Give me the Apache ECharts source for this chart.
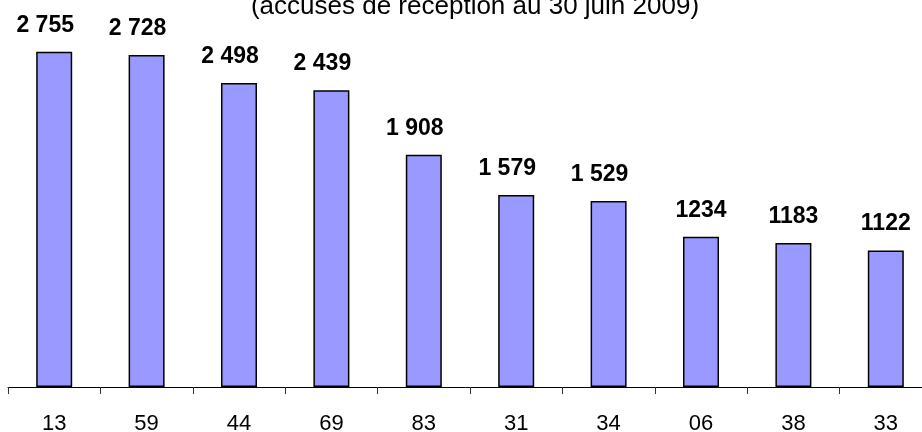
<!DOCTYPE html>
<html>
<head>
<meta charset="utf-8">
<script src="https://cdn.jsdelivr.net/npm/echarts@6/dist/echarts.min.js"></script>
<style>
  html, body { margin: 0; padding: 0; background: #fff; }
  #chart { width: 922px; height: 432px; }
</style>
</head>
<body>
<div id="chart"></div>
<script>
// départements
var categories = ["13", "59", "44", "69", "83", "31", "34", "06", "38", "33"];
// nombre de dossiers
var values = [2755, 2728, 2498, 2439, 1908, 1579, 1529, 1234, 1183, 1122];
// étiquettes telles qu'affichées
var valueLabels = ["2 755", "2 728", "2 498", "2 439", "1 908", "1 579", "1 529", "1234", "1183", "1122"];

// les étiquettes avec espace sont décalées vers la gauche dans l'original
var barData = values.map(function (v, i) {
  return {
    value: v,
    label: { offset: [valueLabels[i].indexOf(" ") >= 0 ? -9 : 0, 0] }
  };
});

var chart = echarts.init(document.getElementById("chart"));
chart.setOption({
  backgroundColor: "#fff",
  animation: false,
  title: {
    text: "(accusés de réception au 30 juin 2009)",
    left: 470,
    top: -11,
    textAlign: "center",
    textStyle: {
      fontFamily: "Liberation Sans, Arial",
      fontWeight: "normal",
      fontSize: 26,
      color: "#000"
    }
  },
  grid: {
    left: 8,
    right: -10,
    top: 22,
    bottom: 45,
    containLabel: false,
    outerBoundsMode: "none"
  },
  xAxis: {
    type: "category",
    data: categories,
    axisLine: { lineStyle: { color: "#000", width: 1 } },
    axisTick: { show: true, length: 7, lineStyle: { color: "#333" } },
    axisLabel: {
      margin: 26,
      fontFamily: "Liberation Sans, Arial",
      fontSize: 22,
      color: "#000"
    }
  },
  yAxis: {
    type: "value",
    min: 0,
    max: 3000,
    show: false,
    splitLine: { show: false }
  },
  series: [{
    type: "bar",
    data: barData,
    barWidth: 36,
    itemStyle: {
      color: "#9999ff",
      borderColor: "#000",
      borderWidth: 1.5
    },
    label: {
      show: true,
      position: "top",
      distance: 15,
      fontFamily: "Liberation Sans, Arial",
      fontWeight: "bold",
      fontSize: 23,
      color: "#000",
      formatter: function (p) { return valueLabels[p.dataIndex]; }
    }
  }]
});
</script>
</body>
</html>
